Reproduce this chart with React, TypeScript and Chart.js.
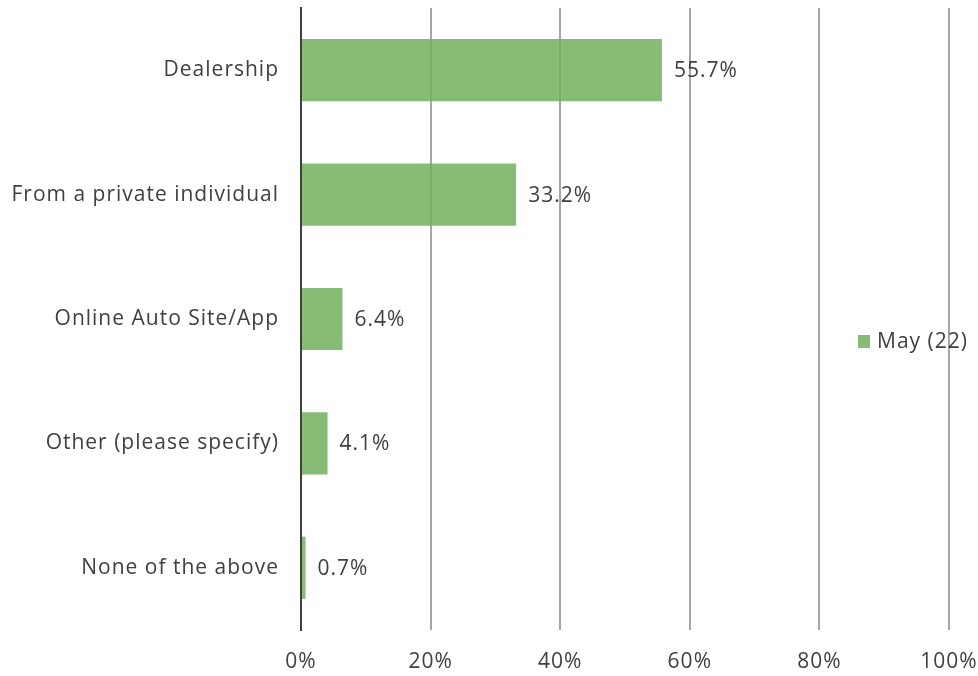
import React, { useEffect, useRef } from "react";
import { Chart, registerables } from "chart.js";

Chart.register(...registerables);

const categories = [
  "Dealership",
  "From a private individual",
  "Online Auto Site/App",
  "Other (please specify)",
  "None of the above",
];
const seriesName = "May (22)";
const values = [55.7, 33.2, 6.4, 4.1, 0.7];
const xTicks = [0, 20, 40, 60, 80, 100];

const FONT = "'Open Sans', sans-serif";
const FSIZE = 21;
const TEXT = "#404040";
const BAR = "rgba(113,176,94,0.85)";

const spacing = {
  id: "spacing",
  beforeDraw(chart: any) {
    (chart.ctx as any).letterSpacing = "1px";
  },
};

const valueLabels = {
  id: "valueLabels",
  afterDatasetsDraw(chart: any) {
    const ctx = chart.ctx;
    const meta = chart.getDatasetMeta(0);
    ctx.save();
    ctx.font = `${FSIZE}px ${FONT}`;
    ctx.fillStyle = TEXT;
    ctx.textAlign = "left";
    ctx.textBaseline = "middle";
    meta.data.forEach((el: any, i: number) => {
      ctx.fillText(values[i].toFixed(1) + "%", el.x + 12, el.y + 1);
    });
    ctx.restore();
  },
};

const overlayLegend = {
  id: "overlayLegend",
  afterDraw(chart: any) {
    const ctx = chart.ctx;
    const cy = 341;
    ctx.save();
    ctx.fillStyle = BAR;
    ctx.fillRect(858, cy - 6, 12, 13);
    ctx.font = `${FSIZE}px ${FONT}`;
    ctx.fillStyle = TEXT;
    ctx.textAlign = "left";
    ctx.textBaseline = "middle";
    ctx.fillText(seriesName, 877, cy + 1);
    ctx.restore();
  },
};

const zeroPad = (axis: any) => {
  axis.paddingLeft = 0;
  axis.paddingRight = 0;
  axis.paddingTop = 0;
  axis.paddingBottom = 0;
};

export default function App() {
  const ref = useRef<HTMLCanvasElement | null>(null);
  useEffect(() => {
    if (!ref.current) return;
    const chart = new Chart(ref.current, {
      type: "bar",
      data: {
        labels: categories,
        datasets: [
          {
            label: seriesName,
            data: values,
            backgroundColor: BAR,
            barPercentage: 1,
            categoryPercentage: 0.5,
          },
        ],
      },
      options: {
        indexAxis: "y",
        animation: false,
        responsive: false,
        maintainAspectRatio: false,
        layout: { padding: { top: 8, right: 29, left: 0, bottom: 0 } },
        plugins: { legend: { display: false }, tooltip: { enabled: false } },
        scales: {
          x: {
            min: 0,
            max: 100,
            afterBuildTicks: (axis: any) => {
              axis.ticks = xTicks.map((v) => ({ value: v }));
            },
            afterFit: (axis: any) => {
              axis.height = 46;
              zeroPad(axis);
            },
            grid: {
              color: "#a6a6a6",
              lineWidth: 2,
              drawTicks: false,
            },
            border: { display: false },
            ticks: {
              padding: 19,
              color: TEXT,
              font: { family: FONT, size: FSIZE },
              callback: (v: any) => v + "%",
            },
          },
          y: {
            afterFit: (axis: any) => {
              axis.width = 301;
              zeroPad(axis);
            },
            grid: { display: false, drawTicks: false },
            border: { display: true, color: "#404040", width: 2 },
            ticks: {
              padding: 22,
              color: TEXT,
              font: { family: FONT, size: FSIZE },
            },
          },
        },
      },
      plugins: [spacing, valueLabels, overlayLegend],
    });
    return () => chart.destroy();
  }, []);
  return (
    <div style={{ position: "fixed", left: 0, top: 0, width: 978, height: 676, background: "#fff" }}>
      <canvas ref={ref} width={978} height={676} />
    </div>
  );
}
